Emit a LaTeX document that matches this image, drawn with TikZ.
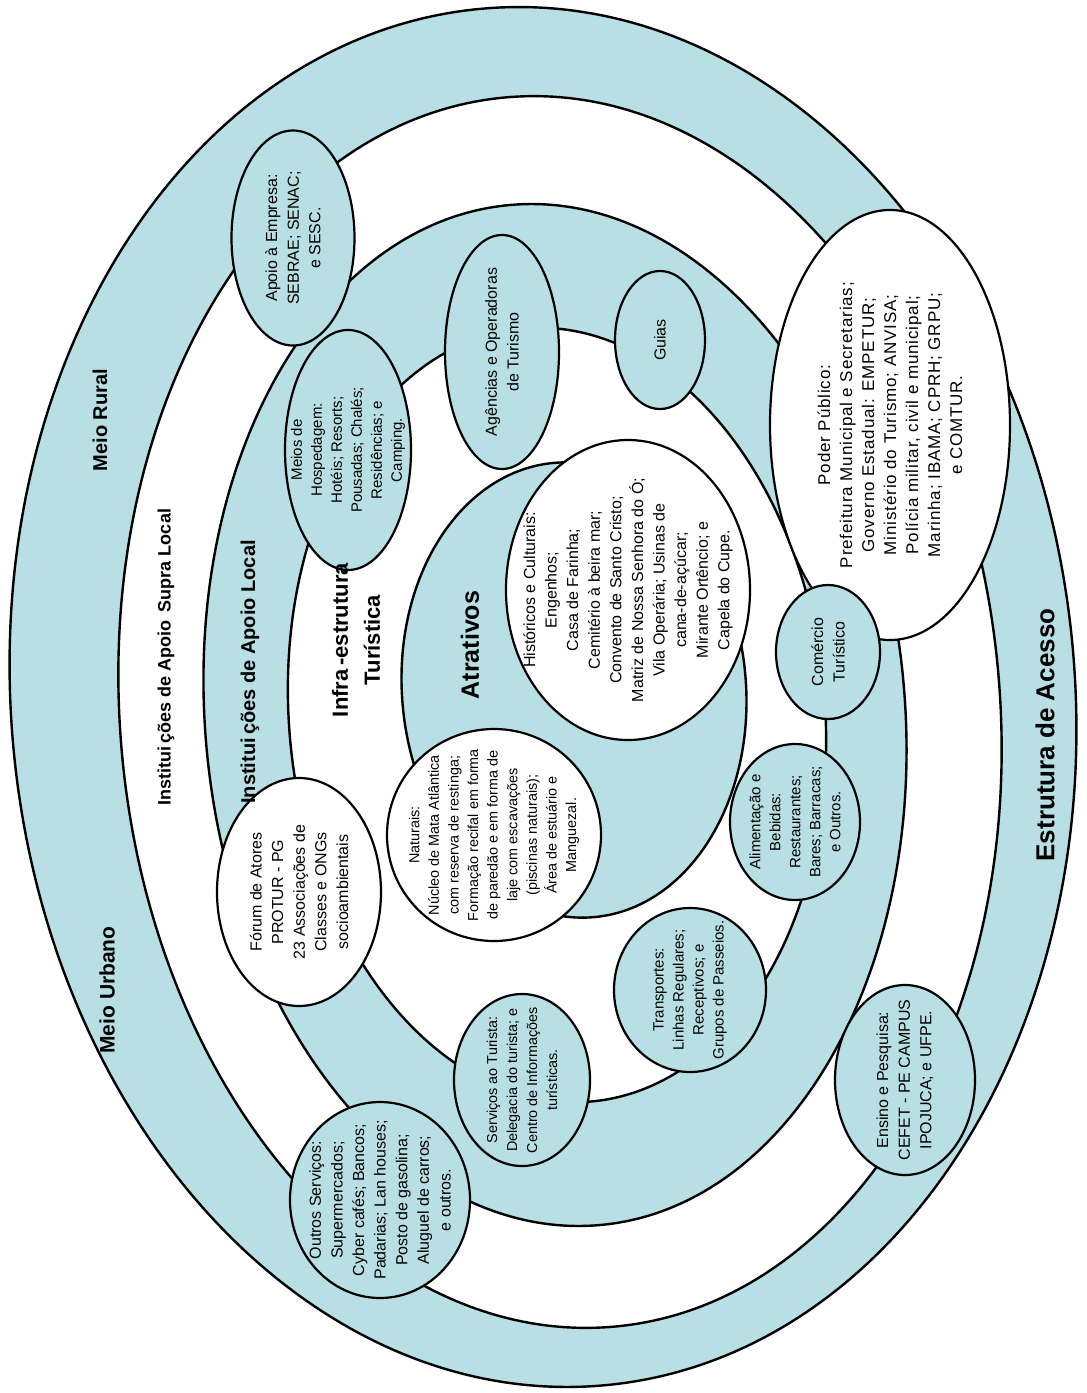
\documentclass[tikz,border=0pt]{standalone}
\usepackage{fontspec}
\setmainfont{Liberation Sans}
\usetikzlibrary{shapes.geometric}
\definecolor{ringblue}{RGB}{184,223,227}
\tikzset{
  ringb/.style={draw=black, line width=1.2pt, fill=ringblue},
  ringw/.style={draw=black, line width=1.2pt, fill=white},
  bubble/.style={ellipse, draw=black, line width=1.1pt, inner sep=0pt, rotate=90},
  bluebub/.style={bubble, fill=ringblue},
  whitebub/.style={bubble, fill=white},
  txt/.style={rotate=90, align=center, inner sep=0pt, font=\fontsize{8}{10.8}\selectfont},
  txts/.style={txt, font=\fontsize{7.5}{10}\selectfont},
  head/.style={rotate=90, align=center, inner sep=0pt, font=\bfseries\fontsize{11}{14}\selectfont}
}
\begin{document}
\begin{tikzpicture}[x=0.5pt,y=-0.5pt]
\useasboundingbox (0,0) rectangle (1087,1393);
% rings
\path[ringb, rotate around={5:(543,697)}] (543,697) ellipse [x radius=532, y radius=691];
\path[ringw, rotate around={5:(560,712)}] (560,712) ellipse [x radius=440, y radius=617];
\path[ringb, rotate around={5:(555,715)}] (555,715) ellipse [x radius=350, y radius=512];
\path[ringw, rotate around={5:(557,715)}] (557,715) ellipse [x radius=268, y radius=388];
\path[ringb, rotate around={5:(574,690)}] (574,690) ellipse [x radius=172, y radius=228];

% bubbles
\node[bluebub, minimum width=107.5pt, minimum height=61.5pt] (apoio) at (293,238) {};
\node[txt] (apoiot) at (apoio.center) {Apoio à Empresa:\\SEBRAE; SENAC;\\e SESC.};

\node[bluebub, minimum width=120pt, minimum height=63pt] (hosp) at (348,450) {};
\node[txts] (hospt) at (hosp.center) {Meios de\\Hospedagem:\\Hotéis; Resorts;\\Pousadas; Chalés;\\Residências; e\\Camping.};

\node[bluebub, minimum width=117pt, minimum height=57pt] (agencias) at (502,352) {};
\node[txt] (agenciast) at (agencias.center) {Agências e Operadoras\\de Turismo};

\node[bluebub, minimum width=69pt, minimum height=45pt] (guias) at (660,340) {};
\node[txt] (guiast) at (guias.center) {Guias};

\node[whitebub, minimum width=215pt, minimum height=120pt] (poder) at (890,425) {};
\node[txt, font=\fontsize{8.5}{11}\selectfont\addfontfeature{LetterSpace=5}] (podert) at (poder.center) {Poder Público:\\Prefeitura Municipal e Secretarias;\\Governo Estadual: EMPETUR;\\Ministério do Turismo; ANVISA;\\Polícia militar, civil e municipal;\\Marinha; IBAMA; CPRH; GRPU;\\e COMTUR.};

\node[whitebub, minimum width=150pt, minimum height=122pt] (historicos) at (628,590) {};
\node[txt] (historicost) at (historicos.center) {Históricos e Culturais:\\Engenhos;\\Casa de Farinha;\\Cemitério à beira mar;\\Convento de Santo Cristo;\\Matriz de Nossa Senhora do Ó;\\Vila Operária; Usinas de\\cana-de-açúcar;\\Mirante Ortêncio; e\\Capela do Cupe.};

\node[bluebub, minimum width=67pt, minimum height=52pt] (comercio) at (828,652) {};
\node[txt] (comerciot) at (comercio.center) {Comércio\\Turístico};

\node[bluebub, minimum width=78pt, minimum height=65pt] (alimentacao) at (795,822) {};
\node[txts] (alimentacaot) at (alimentacao.center) {Alimentação e\\Bebidas:\\Restaurantes;\\Bares; Barracas;\\e Outros.};

\node[whitebub, minimum width=106pt, minimum height=107pt] (naturais) at (494,835) {};
\node[txt, font=\fontsize{7.2}{9.8}\selectfont] (naturaist) at (naturais.center) {Naturais:\\Núcleo de Mata Atlântica\\com reserva de restinga;\\Formação recifal em forma\\de paredão e em forma de\\laje com escavações\\(piscinas naturais);\\Área de estuário e\\Manguezal.};

\node[bluebub, minimum width=82pt, minimum height=76pt] (transportes) at (690,990) {};
\node[txts] (transportest) at (transportes.center) {Transportes:\\Linhas Regulares;\\Receptivos; e\\Grupos de Passeios.};

\node[bluebub, minimum width=86pt, minimum height=68pt] (servicos) at (522,1080) {};
\node[txt, font=\fontsize{7.2}{10}\selectfont] (servicost) at (servicos.center) {Serviços ao Turista:\\Delegacia do turista; e\\Centro de Informações\\turísticas.};

\node[whitebub, minimum width=114pt, minimum height=82pt] (forum) at (299,892) {};
\node[txt] (forumt) at (forum.center) {Fórum de Atores\\PROTUR - PG\\23 Associações de\\Classes e ONGs\\socioambientais};

\node[bluebub, minimum width=98pt, minimum height=90pt] (outros) at (380,1200) {};
\node[txt] (outrost) at (outros.center) {Outros Serviços:\\Supermercados;\\Cyber cafés; Bancos;\\Padarias; Lan houses;\\Posto de gasolina;\\Aluguel de carros;\\e outros.};

\node[bluebub, minimum width=95pt, minimum height=70pt] (ensino) at (905,1080) {};
\node[txt] (ensinot) at (ensino.center) {Ensino e Pesquisa:\\CEFET - PE CAMPUS\\IPOJUCA; e UFPE.};

% headings
\node[head, font=\bfseries\fontsize{10}{12}\selectfont] (meiorural) at (100,420) {Meio Rural};
\node[head, font=\bfseries\fontsize{10.5}{12}\selectfont] (meiourbano) at (107,990) {Meio Urbano};
\node[head, font=\bfseries\fontsize{13}{14}\selectfont] (acesso) at (1045,735) {Estrutura de Acesso};
\node[head, font=\bfseries\fontsize{9}{12}\selectfont] (supra) at (166,657) {Institui\,ções de Apoio\, Supra Local};
\node[head, font=\bfseries\fontsize{10}{12}\selectfont] (local) at (250,672) {Institui\,ções de Apoio Local};
\node[head, font=\bfseries\fontsize{11}{16}\selectfont] (infra) at (356,640) {Infra\,-estrutura\\Turística};
\node[head, font=\bfseries\fontsize{12.5}{14}\selectfont] (atrativos) at (470,645) {Atrativos};
\end{tikzpicture}
\end{document}
